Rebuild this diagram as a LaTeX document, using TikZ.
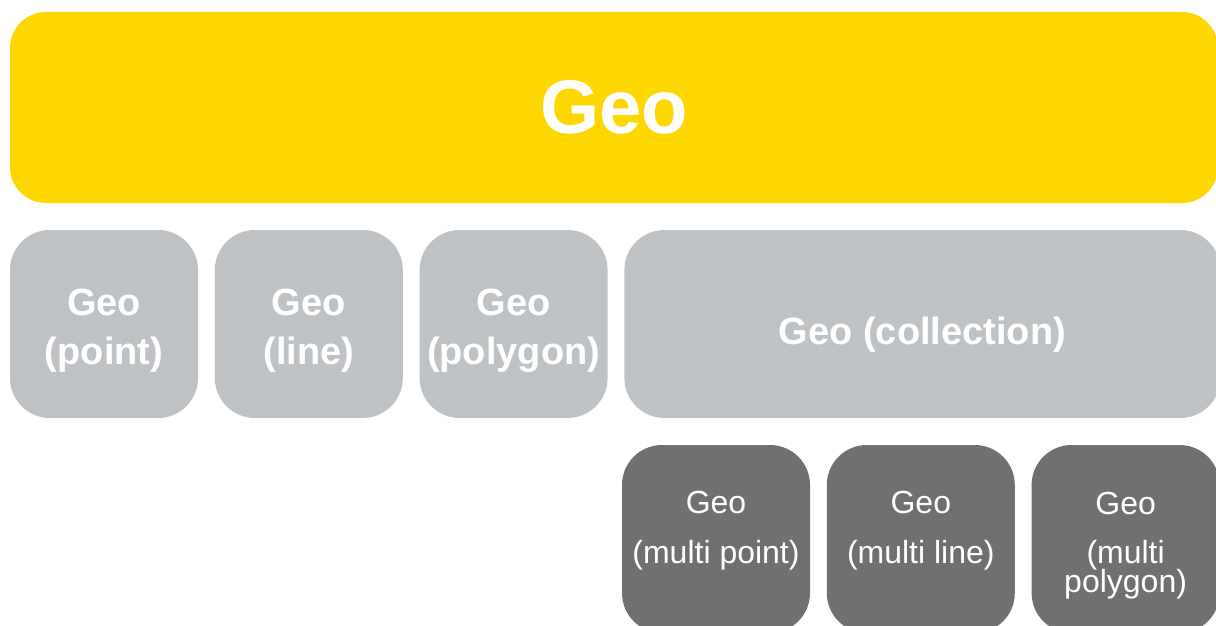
\documentclass[tikz,border=0pt]{standalone}
\usepackage{fontspec}
\setmainfont{Liberation Sans}
\usetikzlibrary{positioning}

\definecolor{geoyellow}{RGB}{255,215,0}
\definecolor{geogray}{RGB}{191,194,197}
\definecolor{geodark}{RGB}{112,112,112}

\begin{document}
\begin{tikzpicture}[x=0.5pt,y=-0.5pt,
    geobox/.style={rounded corners=20pt,inner sep=0pt,align=center,text=white,
        minimum width=94pt,minimum height=94pt},
    geotop/.style={geobox,fill=geoyellow,rounded corners=18pt,
        minimum width=604pt,minimum height=95.5pt,
        font=\bfseries\fontsize{38}{38}\selectfont},
    % text height/depth pin the last line of the text inside the box
    geokind/.style={geobox,fill=geogray,text height=40pt,text depth=0pt,
        font=\bfseries\fontsize{19}{24.5}\selectfont},
    geomulti/.style={geobox,fill=geodark,text height=24pt,text depth=0pt,
        font=\fontsize{16}{25}\selectfont}]

    \useasboundingbox (0,0) rectangle (1216,626);

    % root type
    \node[geotop] (geo) at (614,107.5) {Geo};

    % simple kinds
    \node[geokind] (point) at (104,324) {Geo\\(point)};
    \node[geokind,right=8pt of point] (line) {Geo\\(line)};
    \node[geokind,right=8pt of line] (polygon) {Geo\\(polygon)};
    \node[geokind,minimum width=298pt,text height=20pt,
        right=8pt of polygon] (coll) {Geo (collection)};

    % members of a collection
    \node[geomulti] (mpoint) at (716,539) {Geo\\(multi point)};
    \node[geomulti,right=8pt of mpoint] (mline) {Geo\\(multi line)};
    \node[geomulti,text height=53pt,right=8pt of mline] (mpoly)
        {Geo\\[-0.5pt](multi\\[-10.5pt]polygon)};

\end{tikzpicture}
\end{document}
